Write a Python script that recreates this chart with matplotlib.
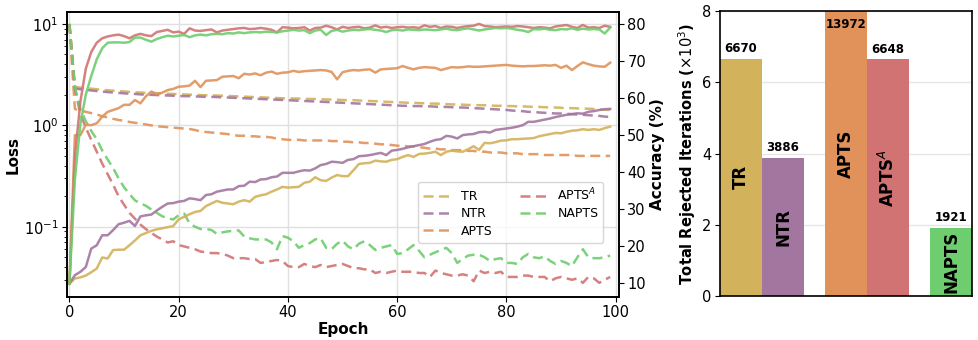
import matplotlib
matplotlib.use("Agg")
import matplotlib.pyplot as plt
import numpy as np

# ---------------- data ----------------
epochs = list(range(100))
methods = ["TR", "NTR", "APTS", "APTS$^A$", "NAPTS"]
colors = ["#D2B25A", "#A376A0", "#E0925A", "#D27373", "#6ECD6E"]

loss_tr = [10.0,
    2.40, 2.36, 2.33, 2.30, 2.27, 2.24, 2.22, 2.20, 2.18, 2.16,
    2.14, 2.12, 2.11, 2.09, 2.08, 2.07, 2.06, 2.05, 2.04, 2.03,
    2.02, 2.01, 2.00, 1.99, 1.98, 1.98, 1.97, 1.96, 1.95, 1.94,
    1.93, 1.92, 1.91, 1.90, 1.89, 1.88, 1.87, 1.86, 1.85, 1.85,
    1.84, 1.84, 1.83, 1.82, 1.82, 1.81, 1.80, 1.80, 1.79, 1.78,
    1.77, 1.77, 1.76, 1.75, 1.74, 1.73, 1.72, 1.71, 1.70, 1.69,
    1.68, 1.67, 1.67, 1.66, 1.65, 1.64, 1.64, 1.63, 1.62, 1.61,
    1.61, 1.60, 1.59, 1.59, 1.58, 1.58, 1.57, 1.56, 1.56, 1.55,
    1.55, 1.54, 1.54, 1.53, 1.52, 1.52, 1.51, 1.50, 1.50, 1.49,
    1.48, 1.48, 1.47, 1.46, 1.46, 1.45, 1.44, 1.43, 1.42]
loss_ntr = [10.0,
    2.31, 2.27, 2.24, 2.21, 2.18, 2.15, 2.13, 2.11, 2.09, 2.07,
    2.05, 2.04, 2.02, 2.01, 2.00, 1.99, 1.98, 1.97, 1.96, 1.95,
    1.94, 1.94, 1.93, 1.92, 1.91, 1.91, 1.90, 1.89, 1.88, 1.87,
    1.86, 1.85, 1.84, 1.83, 1.82, 1.81, 1.80, 1.79, 1.78, 1.77,
    1.76, 1.75, 1.74, 1.73, 1.72, 1.71, 1.70, 1.69, 1.68, 1.67,
    1.66, 1.65, 1.64, 1.63, 1.62, 1.61, 1.60, 1.59, 1.58, 1.57,
    1.56, 1.56, 1.55, 1.55, 1.54, 1.54, 1.53, 1.52, 1.52, 1.51,
    1.50, 1.50, 1.49, 1.48, 1.47, 1.46, 1.45, 1.44, 1.43, 1.42,
    1.40, 1.39, 1.38, 1.36, 1.35, 1.34, 1.33, 1.32, 1.31, 1.31,
    1.30, 1.29, 1.28, 1.27, 1.26, 1.25, 1.24, 1.22, 1.21]
loss_apts = [10.0,
    1.45, 1.40, 1.36, 1.32, 1.28, 1.23, 1.20, 1.16, 1.13, 1.11,
    1.08, 1.06, 1.04, 1.02, 1.00, 0.98, 0.97, 0.96, 0.95, 0.94,
    0.93, 0.92, 0.90, 0.87, 0.86, 0.85, 0.84, 0.83, 0.82, 0.80,
    0.79, 0.79, 0.78, 0.78, 0.77, 0.77, 0.76, 0.74, 0.73, 0.72,
    0.72, 0.72, 0.71, 0.71, 0.71, 0.71, 0.71, 0.70, 0.70, 0.69,
    0.69, 0.68, 0.68, 0.67, 0.67, 0.66, 0.65, 0.65, 0.64, 0.63,
    0.63, 0.62, 0.62, 0.61, 0.60, 0.59, 0.59, 0.58, 0.58, 0.57,
    0.57, 0.57, 0.56, 0.56, 0.55, 0.55, 0.54, 0.54, 0.54, 0.53,
    0.53, 0.53, 0.52, 0.52, 0.52, 0.52, 0.51, 0.51, 0.51, 0.51,
    0.51, 0.51, 0.50, 0.50, 0.50, 0.50, 0.50, 0.50, 0.50]
loss_aptsa = [
    10.0, 2.30, 1.30, 0.95, 0.72, 0.55, 0.42, 0.33, 0.26, 0.20,
    0.165, 0.137, 0.12, 0.105, 0.095, 0.087, 0.080, 0.075, 0.070, 0.072,
    0.066, 0.064, 0.062, 0.060, 0.057, 0.056, 0.055, 0.055, 0.054, 0.052,
    0.049, 0.049, 0.049, 0.048, 0.048, 0.044, 0.045, 0.046, 0.047, 0.046,
    0.041, 0.040, 0.040, 0.043, 0.041, 0.040, 0.042, 0.040, 0.041, 0.042,
    0.043, 0.041, 0.039, 0.039, 0.038, 0.038, 0.035, 0.036, 0.035, 0.036,
    0.037, 0.036, 0.036, 0.036, 0.035, 0.035, 0.032, 0.037, 0.035, 0.034,
    0.033, 0.033, 0.034, 0.033, 0.029, 0.037, 0.035, 0.036, 0.035, 0.036,
    0.032, 0.032, 0.032, 0.033, 0.033, 0.032, 0.032, 0.032, 0.029, 0.031,
    0.032, 0.031, 0.030, 0.031, 0.028, 0.032, 0.031, 0.028, 0.030, 0.032]
loss_napts = [
    10.0, 2.40, 1.45, 1.10, 0.88, 0.73, 0.565, 0.46, 0.38, 0.30,
    0.245, 0.21, 0.182, 0.17, 0.161, 0.148, 0.137, 0.127, 0.121, 0.118,
    0.13, 0.135, 0.108, 0.10, 0.095, 0.095, 0.093, 0.085, 0.088, 0.09,
    0.091, 0.092, 0.08, 0.077, 0.075, 0.075, 0.075, 0.07, 0.06, 0.081,
    0.078, 0.072, 0.062, 0.066, 0.069, 0.075, 0.077, 0.062, 0.06, 0.068,
    0.073, 0.064, 0.06, 0.068, 0.072, 0.066, 0.059, 0.062, 0.064, 0.066,
    0.054, 0.055, 0.06, 0.066, 0.058, 0.05, 0.053, 0.056, 0.059, 0.062,
    0.055, 0.044, 0.048, 0.052, 0.053, 0.053, 0.05, 0.046, 0.048, 0.049,
    0.044, 0.044, 0.043, 0.05, 0.054, 0.05, 0.049, 0.051, 0.046, 0.043,
    0.046, 0.044, 0.041, 0.05, 0.06, 0.05, 0.049, 0.049, 0.05, 0.052]

acc_tr = [
    9.8, 11.2, 11.5, 12.0, 12.9, 13.9, 16.9, 16.6, 18.9, 19.0,
    19.0, 20.2, 21.5, 22.9, 23.5, 24.1, 24.5, 24.8, 25.1, 25.4,
    27.2, 27.9, 28.6, 29.2, 29.5, 30.8, 31.5, 32.2, 31.7, 31.5,
    31.3, 32.0, 32.4, 32.0, 33.3, 33.7, 34.0, 34.7, 35.3, 36.0,
    35.8, 35.9, 36.0, 37.1, 37.4, 38.6, 37.8, 37.6, 38.5, 39.2,
    38.9, 38.9, 40.5, 42.2, 42.4, 42.5, 43.1, 42.9, 42.8, 43.3,
    43.5, 44.1, 44.6, 44.1, 44.9, 45.0, 45.2, 45.5, 44.6, 45.5,
    45.8, 45.6, 45.5, 46.2, 47.0, 46.0, 47.9, 47.8, 48.1, 48.5,
    48.6, 48.9, 48.9, 49.0, 49.1, 49.2, 49.7, 50.0, 50.3, 50.6,
    50.5, 50.9, 51.2, 51.3, 51.6, 51.4, 51.6, 51.4, 51.9, 52.3]
acc_ntr = [
    9.8, 12.1, 13.0, 14.3, 19.3, 20.2, 22.9, 22.9, 24.3, 25.9,
    26.3, 26.8, 25.4, 28.0, 28.3, 28.5, 29.6, 30.6, 31.5, 31.6,
    32.0, 32.2, 32.9, 32.7, 32.4, 33.8, 34.0, 34.7, 35.0, 35.3,
    35.3, 36.2, 36.3, 37.4, 37.3, 38.0, 38.1, 38.6, 38.8, 39.8,
    39.8, 39.8, 40.2, 40.5, 40.4, 41.0, 41.9, 42.2, 42.8, 42.7,
    42.5, 43.3, 43.5, 44.3, 44.4, 44.6, 44.9, 45.2, 44.6, 45.8,
    46.0, 46.3, 46.7, 47.0, 47.3, 47.6, 48.2, 48.7, 48.9, 49.8,
    49.6, 49.1, 50.0, 50.2, 50.3, 50.8, 50.9, 50.7, 51.4, 51.6,
    51.8, 52.0, 52.3, 52.7, 53.6, 53.6, 53.9, 54.2, 54.5, 54.9,
    55.2, 55.5, 55.7, 55.9, 55.8, 56.3, 56.5, 56.8, 57.0, 57.1]
acc_apts = [
    9.8, 50.0, 50.0, 52.8, 52.7, 53.2, 55.0, 56.3, 56.8, 57.3,
    58.2, 58.2, 59.5, 58.6, 60.5, 61.8, 61.1, 61.5, 62.2, 62.5,
    63.1, 63.2, 63.4, 64.7, 63.0, 64.7, 64.8, 64.9, 65.8, 65.9,
    66.0, 65.4, 66.6, 66.4, 66.7, 66.2, 66.9, 67.2, 66.6, 66.9,
    67.0, 67.4, 67.1, 67.3, 67.4, 67.5, 67.6, 67.5, 67.1, 65.1,
    67.0, 67.4, 67.6, 67.5, 67.7, 67.8, 66.9, 67.8, 67.9, 68.0,
    68.1, 68.7, 68.2, 67.8, 68.2, 68.4, 68.3, 68.2, 67.6, 68.0,
    68.4, 68.3, 68.4, 68.6, 68.5, 68.5, 68.6, 68.7, 68.8, 68.9,
    69.0, 68.8, 68.7, 68.6, 68.7, 68.7, 68.8, 68.9, 68.8, 69.0,
    68.2, 68.8, 67.6, 68.7, 69.7, 69.2, 68.8, 68.6, 68.5, 69.6]
acc_aptsa = [
    9.8, 44.0, 59.0, 68.0, 72.5, 75.0, 76.2, 76.7, 77.0, 77.2,
    76.8, 76.2, 77.0, 77.4, 77.0, 76.8, 77.9, 78.2, 78.5, 77.8,
    78.0, 77.4, 78.9, 78.3, 78.2, 78.4, 78.6, 77.8, 78.3, 78.5,
    78.7, 78.9, 79.0, 78.7, 78.8, 79.0, 78.8, 78.5, 77.8, 79.2,
    79.1, 78.9, 79.0, 79.2, 78.3, 79.0, 79.1, 79.6, 79.2, 78.6,
    79.3, 79.0, 79.2, 79.3, 78.9, 79.1, 79.7, 79.1, 79.3, 79.0,
    79.2, 79.3, 79.1, 79.2, 79.0, 79.7, 79.3, 79.5, 79.0, 79.4,
    79.3, 79.0, 79.3, 79.5, 79.6, 80.1, 79.5, 79.4, 79.2, 79.3,
    79.4, 79.3, 79.5, 79.4, 79.2, 79.0, 79.2, 79.1, 78.9, 79.4,
    79.6, 79.8, 79.3, 79.0, 79.8, 79.1, 79.2, 79.0, 79.6, 79.3]
acc_napts = [
    9.8, 38.0, 53.0, 61.0, 66.0, 70.5, 73.5, 75.0, 75.1, 75.1,
    75.0, 75.2, 76.4, 76.4, 75.8, 75.3, 76.0, 76.5, 76.9, 76.7,
    76.9, 77.1, 76.5, 77.0, 77.2, 77.0, 77.3, 77.4, 77.3, 77.6,
    77.5, 77.8, 77.6, 77.8, 77.9, 77.8, 78.0, 77.9, 77.8, 78.1,
    78.3, 78.5, 78.3, 78.4, 77.6, 78.3, 78.5, 77.1, 78.2, 78.5,
    78.0, 78.3, 78.5, 78.4, 78.6, 78.7, 78.5, 78.3, 77.9, 78.4,
    78.5, 78.3, 78.6, 78.5, 78.4, 78.6, 78.5, 78.4, 78.6, 78.8,
    78.5, 78.4, 78.7, 78.9, 78.6, 78.3, 78.6, 78.8, 79.0, 78.9,
    79.0, 78.8, 78.5, 78.3, 77.9, 78.7, 78.6, 78.8, 78.5, 78.4,
    78.7, 78.6, 78.9, 78.5, 78.8, 78.6, 78.7, 78.6, 77.5, 79.1]

rejected = [6670, 3886, 13972, 6648, 1921]
bar_pos = [0, 1, 2.5, 3.5, 5]

losses = [loss_tr, loss_ntr, loss_apts, loss_aptsa, loss_napts]
accs = [acc_tr, acc_ntr, acc_apts, acc_aptsa, acc_napts]

# ---------------- figure ----------------
plt.rcParams['font.family'] = ['DejaVu Sans']
fig = plt.figure(figsize=(9.79, 3.40), dpi=100)

ax = fig.add_axes([0.0684, 0.1265, 0.5638, 0.838])
ax2 = ax.twinx()

for m, c, l in zip(methods, colors, losses):
    ax.plot(epochs, l, ls='--', color=c, lw=1.8, alpha=0.9, label=m, dashes=(4, 2.2))
for m, c, a in zip(methods, colors, accs):
    ax2.plot(epochs, a, ls='-', color=c, lw=1.8, alpha=0.9)

ax.set_yscale('log')
ax.set_ylim(0.0203, 13.1)
ax.set_xlim(-0.45, 100.6)
ax2.set_ylim(6.2, 83.3)
ax2.set_yticks([10, 20, 30, 40, 50, 60, 70, 80])
ax.set_xticks([0, 20, 40, 60, 80, 100])
ax.grid(True, which='major', color='#e0e0e0', lw=1.0)
ax.set_axisbelow(True)

ax.set_xlabel('Epoch', fontsize=11, fontweight='bold', labelpad=1)
ax.set_ylabel('Loss', fontsize=11, fontweight='bold', labelpad=2)
ax2.set_ylabel('Accuracy (%)', fontsize=11, fontweight='bold', labelpad=3)
ax.tick_params(labelsize=10.5, pad=2.5)
ax2.tick_params(labelsize=10.5, pad=2.5)
for a in (ax, ax2):
    for s in a.spines.values():
        s.set_linewidth(1.2)
        s.set_color('black')

leg = ax.legend(ncol=2, loc='lower right', bbox_to_anchor=(0.972, 0.19),
                borderaxespad=0, fontsize=9, framealpha=0.8, edgecolor='#cccccc',
                handlelength=2.2, columnspacing=2.2, labelspacing=0.35)

# ---------------- bar chart ----------------
bx = fig.add_axes([0.7355, 0.129, 0.2574, 0.838])
vals_k = [v / 1000 for v in rejected]
bx.bar(bar_pos, vals_k, width=1.0, color=colors, zorder=2)
bx.set_ylim(0, 8)
bx.set_xlim(-0.5, 5.5)
bx.set_xticks([])
bx.set_yticks([0, 2, 4, 6, 8])
bx.yaxis.grid(True, color='#e6e6e6', lw=1.0, zorder=0)
bx.set_axisbelow(True)
bx.tick_params(labelsize=10.5, pad=2.5)
for s in bx.spines.values():
    s.set_linewidth(1.2)
    s.set_color('black')
bx.set_ylabel(r'Total Rejected Iterations ($\times 10^3$)', fontsize=10.5, fontweight='bold', labelpad=3)

for p, v, raw, m in zip(bar_pos, vals_k, rejected, methods):
    h = min(v, 8)
    if v > 8:
        bx.text(p, 7.82, f'{raw}', ha='center', va='top', fontsize=8.5, fontweight='bold')
    else:
        bx.text(p, h + 0.1, f'{raw}', ha='center', va='bottom', fontsize=8.5, fontweight='bold')
    bx.text(p, h / 2, m, ha='center', va='center', rotation=90, fontsize=12, fontweight='bold')

fig.savefig('out.png', dpi=100)
